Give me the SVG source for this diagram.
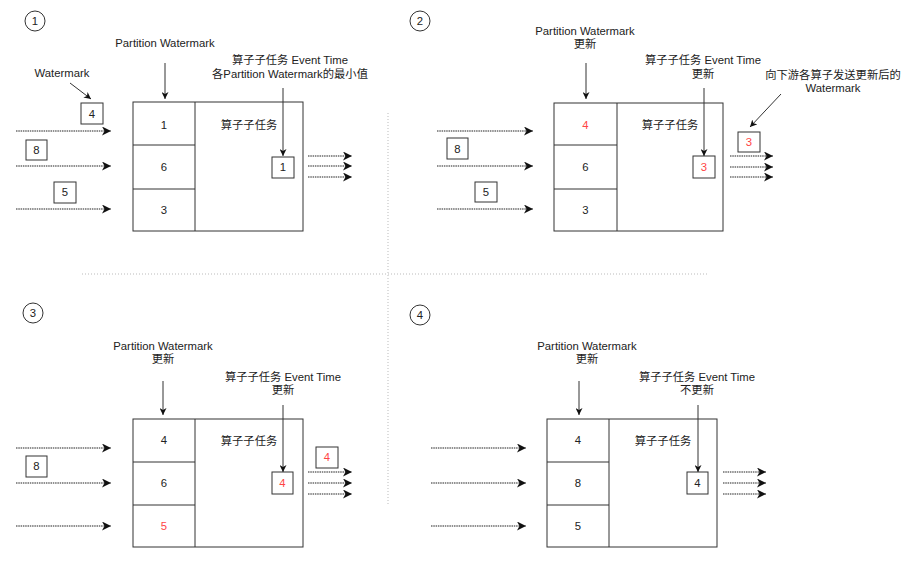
<svg xmlns="http://www.w3.org/2000/svg" width="911" height="569" viewBox="0 0 911 569">
<style>
text{font-family:"Liberation Sans","Noto Sans CJK SC",sans-serif;font-size:11.3px;fill:#222;text-anchor:middle}
.red{fill:#f44}
.box{fill:#fff;stroke:#333;stroke-width:1}
.ln{stroke:#333;stroke-width:1;fill:none}
.dot{stroke:#222;stroke-width:1.1;stroke-dasharray:1.5 0.8;fill:none}
.sep{stroke:#bbb;stroke-width:1;stroke-dasharray:1 2;fill:none}
.circ{fill:#fff;stroke:#333;stroke-width:1}
</style>
<defs>
<marker id="ah" markerUnits="userSpaceOnUse" markerWidth="10" markerHeight="9" refX="9" refY="4.5" orient="auto">
<path d="M0,0 L9,4.5 L0,9 L2.5,4.5 Z" fill="#111"/>
</marker>
<marker id="as" markerUnits="userSpaceOnUse" markerWidth="8" markerHeight="7" refX="7" refY="3.5" orient="auto">
<path d="M0,0 L7,3.5 L0,7 L2,3.5 Z" fill="#111"/>
</marker>
</defs>
<rect width="911" height="569" fill="#fff"/>

<g id="separators">
<line class="sep" x1="388" y1="113" x2="388" y2="505"/>
<line class="sep" x1="82" y1="274" x2="708" y2="274"/>
</g>

<!-- Panel 1 -->
<g id="step1">
<circle class="circ" cx="35" cy="21" r="10"/><text x="35" y="25">1</text>
</g>
<g id="p1-labels">
<text x="165" y="47">Partition Watermark</text>
<text x="290" y="64">算子子任务 Event Time</text>
<text x="290" y="78">各Partition Watermark的最小值</text>
<text x="62" y="77">Watermark</text>
</g>
<g id="p1-operator">
<rect class="box" x="133" y="102" width="170" height="129"/>
<line class="ln" x1="195" y1="102" x2="195" y2="231"/>
<line class="ln" x1="133" y1="145" x2="195" y2="145"/>
<line class="ln" x1="133" y1="189" x2="195" y2="189"/>
<text x="164" y="129">1</text>
<text x="164" y="171">6</text>
<text x="164" y="214">3</text>
<text x="249" y="129">算子子任务</text>
</g>
<g id="p1-et"><rect class="box" x="272" y="157" width="22" height="21"/><text x="283" y="171">1</text></g>
<g id="p1-w4"><rect class="box" x="81" y="103" width="22" height="21"/><text x="92" y="118">4</text></g>
<g id="p1-w8"><rect class="box" x="26" y="140" width="21" height="20"/><text x="36.5" y="154">8</text></g>
<g id="p1-w5"><rect class="box" x="54" y="182" width="22" height="21"/><text x="65" y="196">5</text></g>

<!-- Panel 2 -->
<g id="step2">
<circle class="circ" cx="420" cy="21" r="10"/><text x="420" y="25">2</text>
</g>
<g id="p2-labels">
<text x="585" y="35">Partition Watermark</text>
<text x="585" y="48">更新</text>
<text x="703" y="64">算子子任务 Event Time</text>
<text x="703" y="78">更新</text>
<text x="833" y="79">向下游各算子发送更新后的</text>
<text x="833" y="92">Watermark</text>
</g>
<g id="p2-operator">
<rect class="box" x="554" y="103" width="169" height="128"/>
<line class="ln" x1="617" y1="103" x2="617" y2="231"/>
<line class="ln" x1="554" y1="145" x2="617" y2="145"/>
<line class="ln" x1="554" y1="189" x2="617" y2="189"/>
<text class="red" x="585.5" y="129">4</text>
<text x="585.5" y="171">6</text>
<text x="585.5" y="214">3</text>
<text x="670" y="129">算子子任务</text>
</g>
<g id="p2-et"><rect class="box" x="693" y="156" width="22" height="22"/><text class="red" x="704" y="171">3</text></g>
<g id="p2-out"><rect class="box" x="738" y="132" width="22" height="20"/><text class="red" x="749" y="146">3</text></g>
<g id="p2-w8"><rect class="box" x="447" y="138" width="21" height="21"/><text x="457.5" y="153">8</text></g>
<g id="p2-w5"><rect class="box" x="475" y="182" width="22" height="20"/><text x="486" y="196">5</text></g>

<!-- Panel 3 -->
<g id="step3">
<circle class="circ" cx="33" cy="313" r="10"/><text x="33" y="317">3</text>
</g>
<g id="p3-labels">
<text x="163" y="350">Partition Watermark</text>
<text x="163" y="363">更新</text>
<text x="283" y="381">算子子任务 Event Time</text>
<text x="283" y="394">更新</text>
</g>
<g id="p3-operator">
<rect class="box" x="133" y="419" width="170" height="128"/>
<line class="ln" x1="195" y1="419" x2="195" y2="547"/>
<line class="ln" x1="133" y1="462" x2="195" y2="462"/>
<line class="ln" x1="133" y1="505" x2="195" y2="505"/>
<text x="164" y="444">4</text>
<text x="164" y="487">6</text>
<text class="red" x="164" y="530">5</text>
<text x="249" y="445">算子子任务</text>
</g>
<g id="p3-et"><rect class="box" x="272" y="472" width="21" height="22"/><text class="red" x="282.5" y="487">4</text></g>
<g id="p3-out"><rect class="box" x="316" y="447" width="22" height="21"/><text class="red" x="327" y="461">4</text></g>
<g id="p3-w8"><rect class="box" x="26" y="456" width="21" height="21"/><text x="36.5" y="470">8</text></g>

<!-- Panel 4 -->
<g id="step4">
<circle class="circ" cx="420" cy="315" r="10"/><text x="420" y="319">4</text>
</g>
<g id="p4-labels">
<text x="587" y="350">Partition Watermark</text>
<text x="587" y="363">更新</text>
<text x="697" y="381">算子子任务 Event Time</text>
<text x="697" y="394">不更新</text>
</g>
<g id="p4-operator">
<rect class="box" x="547" y="419" width="170" height="128"/>
<line class="ln" x1="609" y1="419" x2="609" y2="547"/>
<line class="ln" x1="547" y1="462" x2="609" y2="462"/>
<line class="ln" x1="547" y1="505" x2="609" y2="505"/>
<text x="578" y="444">4</text>
<text x="578" y="487">8</text>
<text x="578" y="530">5</text>
<text x="663" y="445">算子子任务</text>
</g>
<g id="p4-et"><rect class="box" x="687" y="472" width="21" height="22"/><text x="697.5" y="487">4</text></g>

<g id="connectors">
<!-- panel 1 -->
<line class="ln" x1="165" y1="63" x2="165" y2="99" marker-end="url(#as)"/>
<line class="ln" x1="283" y1="88" x2="283" y2="156" marker-end="url(#as)"/>
<line class="ln" x1="70" y1="83" x2="91" y2="99" marker-end="url(#as)"/>
<line class="dot" x1="16" y1="131" x2="111" y2="131" marker-end="url(#ah)"/>
<line class="dot" x1="16" y1="166" x2="111" y2="166" marker-end="url(#ah)"/>
<line class="dot" x1="16" y1="209" x2="111" y2="209" marker-end="url(#ah)"/>
<line class="dot" x1="308" y1="156" x2="352" y2="156" marker-end="url(#ah)"/>
<line class="dot" x1="308" y1="166" x2="352" y2="166" marker-end="url(#ah)"/>
<line class="dot" x1="308" y1="177" x2="352" y2="177" marker-end="url(#ah)"/>
<!-- panel 2 -->
<line class="ln" x1="586" y1="63" x2="586" y2="99" marker-end="url(#as)"/>
<line class="ln" x1="704" y1="88" x2="704" y2="156" marker-end="url(#as)"/>
<line class="ln" x1="781" y1="94" x2="750" y2="127" marker-end="url(#as)"/>
<line class="dot" x1="437" y1="131" x2="533" y2="131" marker-end="url(#ah)"/>
<line class="dot" x1="437" y1="166" x2="533" y2="166" marker-end="url(#ah)"/>
<line class="dot" x1="437" y1="209" x2="533" y2="209" marker-end="url(#ah)"/>
<line class="dot" x1="730" y1="156" x2="773" y2="156" marker-end="url(#ah)"/>
<line class="dot" x1="730" y1="167" x2="773" y2="167" marker-end="url(#ah)"/>
<line class="dot" x1="730" y1="177" x2="773" y2="177" marker-end="url(#ah)"/>
<!-- panel 3 -->
<line class="ln" x1="163" y1="381" x2="163" y2="415" marker-end="url(#as)"/>
<line class="ln" x1="283" y1="405" x2="283" y2="472" marker-end="url(#as)"/>
<line class="dot" x1="16" y1="448" x2="111" y2="448" marker-end="url(#ah)"/>
<line class="dot" x1="16" y1="483" x2="111" y2="483" marker-end="url(#ah)"/>
<line class="dot" x1="16" y1="526" x2="111" y2="526" marker-end="url(#ah)"/>
<line class="dot" x1="308" y1="472" x2="352" y2="472" marker-end="url(#ah)"/>
<line class="dot" x1="308" y1="483" x2="352" y2="483" marker-end="url(#ah)"/>
<line class="dot" x1="308" y1="494" x2="352" y2="494" marker-end="url(#ah)"/>
<!-- panel 4 -->
<line class="ln" x1="579" y1="381" x2="579" y2="415" marker-end="url(#as)"/>
<line class="ln" x1="698" y1="405" x2="698" y2="472" marker-end="url(#as)"/>
<line class="dot" x1="431" y1="448" x2="526" y2="448" marker-end="url(#ah)"/>
<line class="dot" x1="431" y1="483" x2="526" y2="483" marker-end="url(#ah)"/>
<line class="dot" x1="431" y1="526" x2="526" y2="526" marker-end="url(#ah)"/>
<line class="dot" x1="723" y1="472" x2="766" y2="472" marker-end="url(#ah)"/>
<line class="dot" x1="723" y1="483" x2="766" y2="483" marker-end="url(#ah)"/>
<line class="dot" x1="723" y1="494" x2="766" y2="494" marker-end="url(#ah)"/>
</g>
</svg>
